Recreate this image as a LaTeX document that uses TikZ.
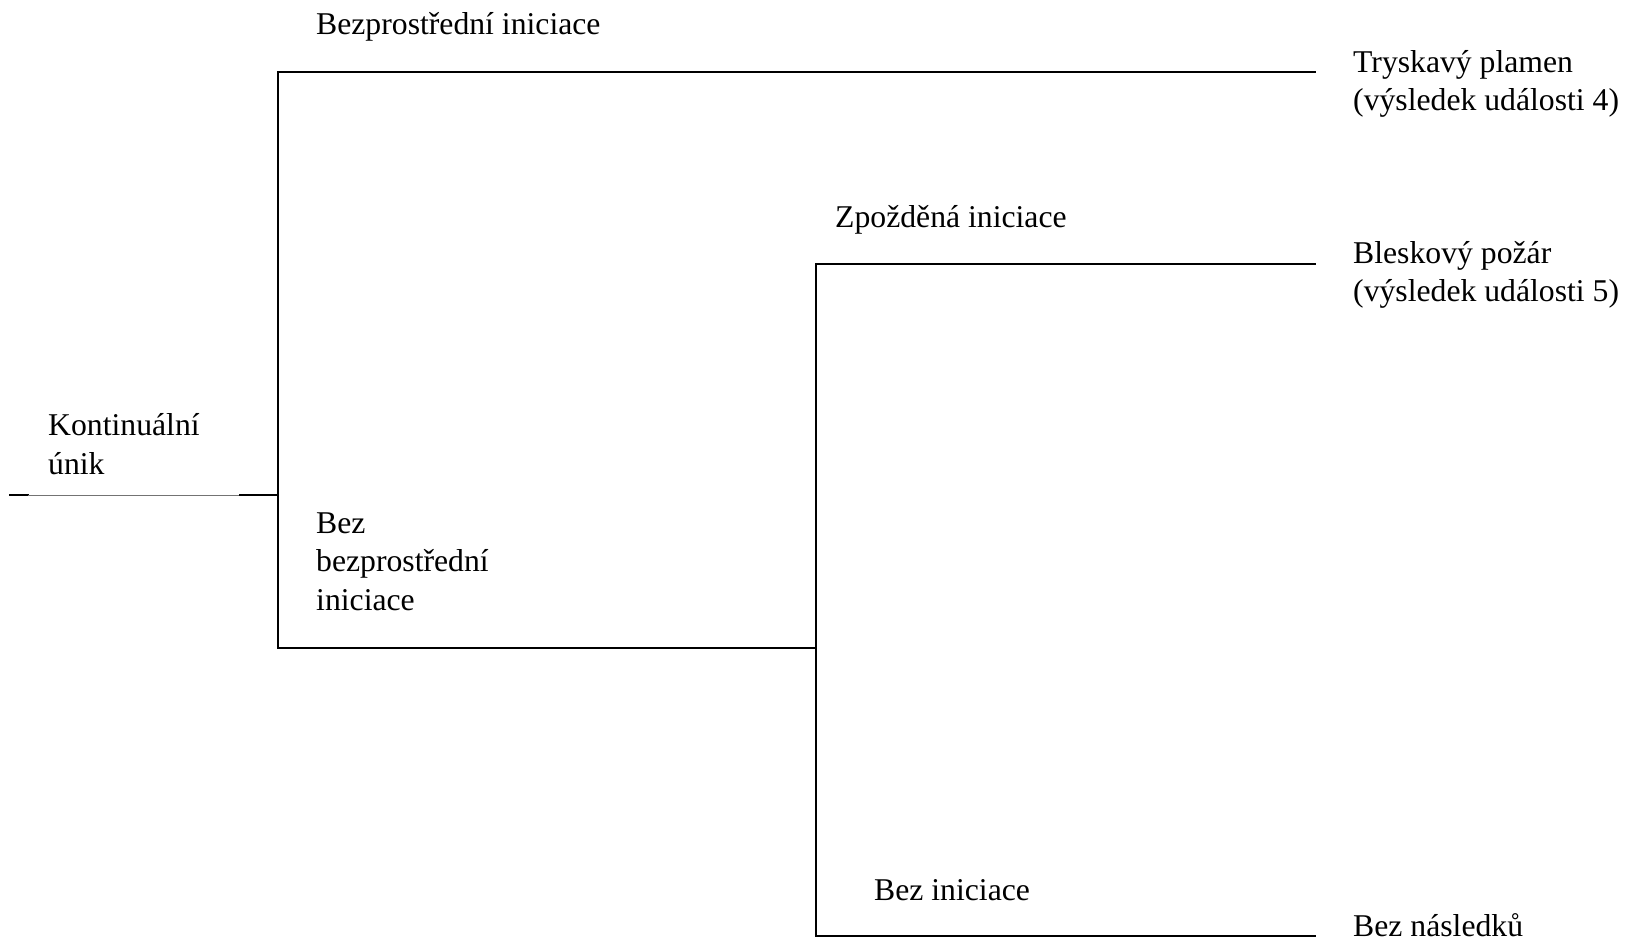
\documentclass[tikz,border=0pt]{standalone}
\usepackage{fontspec}
\setmainfont{Liberation Serif}
\usepackage{tikz}
\usetikzlibrary{positioning}

\tikzset{
  lbl/.style={inner sep=0pt,anchor=base west,align=left,font=\fontsize{31.7}{38.4}\selectfont},
  branch/.style={line width=2pt,line cap=rect},
  gapline/.style={line width=1pt,black!55}
}

\begin{document}
\begin{tikzpicture}[x=1pt,y=-1pt]
  \useasboundingbox (0,0) rectangle (1626,941);

  % Initiating event
  \coordinate (start) at (10,495);
  \coordinate (gapL) at (28,495);
  \coordinate (gapR) at (240,495);
  \coordinate (root) at (278,495);
  \node[lbl] (leak) at (48,474) {Kontinuální\\únik};
  \draw[branch] (start) -- (gapL);
  \draw[gapline] (gapL) -- (gapR);
  \draw[branch] (gapR) -- (root);

  % First split
  \coordinate (upper) at (278,72);
  \coordinate (lower) at (278,648);
  \coordinate (jet) at (1315,72);
  \draw[branch] (jet) -- (upper) -- (lower);
  \node[lbl] (immed) at (316,35) {Bezprostřední iniciace};
  \node[lbl] (noimmed) at (316,610) {Bez\\bezprostřední\\iniciace};

  % Second split
  \coordinate (mid) at (816,648);
  \coordinate (midup) at (816,264);
  \coordinate (middown) at (816,936);
  \coordinate (flash) at (1315,264);
  \coordinate (none) at (1315,936);
  \draw[branch] (lower) -- (mid);
  \draw[branch] (flash) -- (midup) -- (middown) -- (none);
  \node[lbl] (delayed) at (835,228) {Zpožděná iniciace};
  \node[lbl] (noign) at (874,900) {Bez iniciace};

  % Outcomes
  \node[lbl] (out4) at (1353,111) {Tryskavý plamen\\(výsledek události 4)};
  \node[lbl] (out5) at (1353,302) {Bleskový požár\\(výsledek události 5)};
  \node[lbl] (out0) at (1353,936) {Bez následků};
\end{tikzpicture}
\end{document}
